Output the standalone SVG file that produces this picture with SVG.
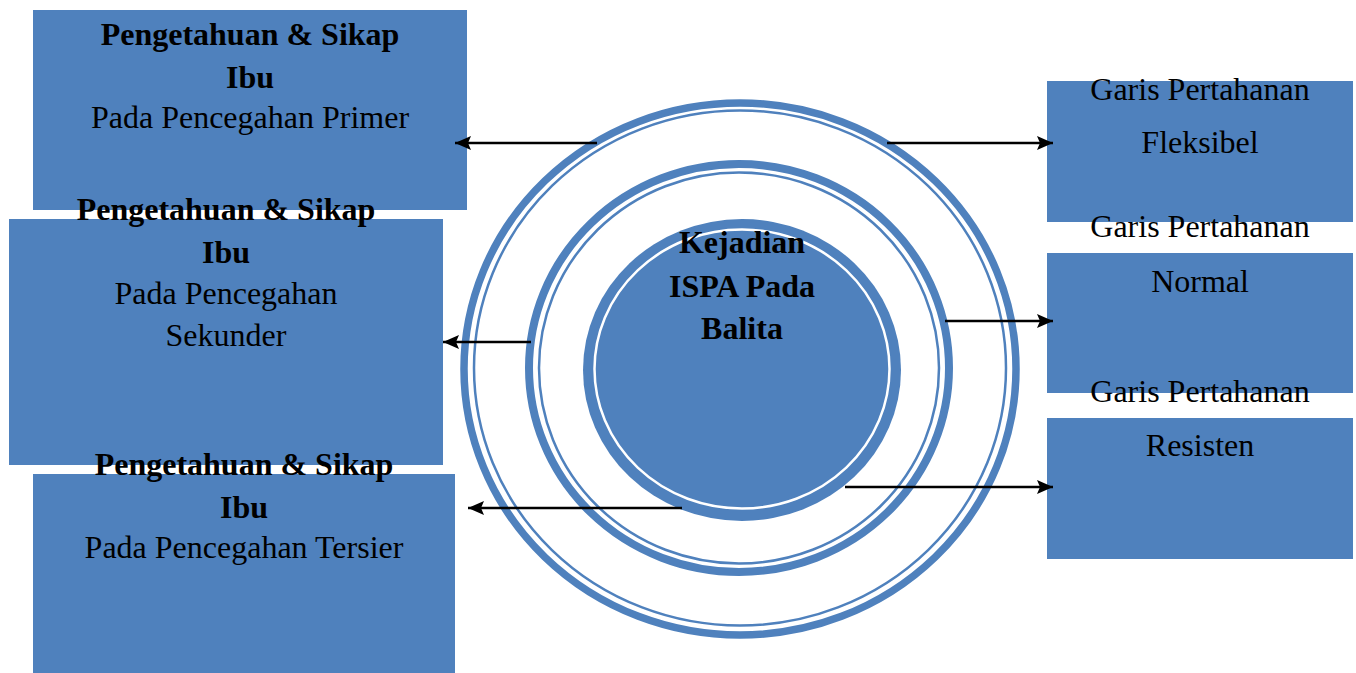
<svg xmlns="http://www.w3.org/2000/svg" width="1356" height="673" viewBox="0 0 1356 673">
<style>
.box{fill:#4F81BD}
.t{font-family:"Liberation Serif","Times New Roman",serif;font-size:32px;fill:#000;text-anchor:middle}
.b{font-weight:bold}
.ring{fill:none;stroke:#4F81BD}
.con{stroke:#000;stroke-width:2.5;fill:none}
</style>
<defs>
<marker id="ah" markerUnits="userSpaceOnUse" markerWidth="20" markerHeight="16" refX="16" refY="7" orient="auto">
<path d="M0,0 L16,7 L0,14 L3,7 z" fill="#000"/>
</marker>
</defs>
<rect width="1356" height="673" fill="#fff"/>
<g id="rings">
<ellipse class="ring" cx="740" cy="369" rx="276" ry="266" stroke-width="7.5"/>
<ellipse class="ring" cx="740" cy="368" rx="266" ry="257.5" stroke-width="2.5"/>
<ellipse class="ring" cx="739" cy="368" rx="210" ry="204" stroke-width="8"/>
<ellipse class="ring" cx="739" cy="368" rx="200" ry="195.5" stroke-width="2.5"/>
</g>
<g id="center">
<ellipse cx="742" cy="370" rx="159" ry="151" fill="#4F81BD"/>
<ellipse cx="742" cy="369" rx="147.5" ry="139.5" fill="none" stroke="#fff" stroke-width="2.5"/>
<text class="t b" x="742" y="253">Kejadian</text>
<text class="t b" x="742" y="297">ISPA Pada</text>
<text class="t b" x="742" y="339">Balita</text>
</g>
<g id="primer">
<rect class="box" x="33" y="10" width="434" height="200"/>
<text class="t b" x="250" y="45">Pengetahuan &amp; Sikap</text>
<text class="t b" x="250" y="88">Ibu</text>
<text class="t" x="250" y="128">Pada Pencegahan Primer</text>
</g>
<g id="sekunder">
<rect class="box" x="9" y="219" width="434" height="246"/>
<text class="t b" x="226" y="220">Pengetahuan &amp; Sikap</text>
<text class="t b" x="226" y="263">Ibu</text>
<text class="t" x="226" y="304">Pada Pencegahan</text>
<text class="t" x="226" y="346">Sekunder</text>
</g>
<g id="tersier">
<rect class="box" x="33" y="474" width="422" height="199"/>
<text class="t b" x="244" y="475">Pengetahuan &amp; Sikap</text>
<text class="t b" x="244" y="518">Ibu</text>
<text class="t" x="244" y="558">Pada Pencegahan Tersier</text>
</g>
<g id="fleksibel">
<rect class="box" x="1047" y="81" width="306" height="141"/>
<text class="t" x="1200" y="100">Garis Pertahanan</text>
<text class="t" x="1200" y="153">Fleksibel</text>
</g>
<g id="normal">
<rect class="box" x="1047" y="253" width="306" height="140"/>
<text class="t" x="1200" y="237">Garis Pertahanan</text>
<text class="t" x="1200" y="292">Normal</text>
</g>
<g id="resisten">
<rect class="box" x="1047" y="418" width="306" height="141"/>
<text class="t" x="1200" y="402">Garis Pertahanan</text>
<text class="t" x="1200" y="456">Resisten</text>
</g>
<g id="connectors">
<line class="con" x1="597" y1="143" x2="455" y2="143" marker-end="url(#ah)"/>
<line class="con" x1="887" y1="143" x2="1053" y2="143" marker-end="url(#ah)"/>
<line class="con" x1="531" y1="342" x2="443" y2="342" marker-end="url(#ah)"/>
<line class="con" x1="945" y1="321" x2="1053" y2="321" marker-end="url(#ah)"/>
<line class="con" x1="682" y1="508" x2="468" y2="508" marker-end="url(#ah)"/>
<line class="con" x1="845" y1="487" x2="1053" y2="487" marker-end="url(#ah)"/>
</g>
</svg>
